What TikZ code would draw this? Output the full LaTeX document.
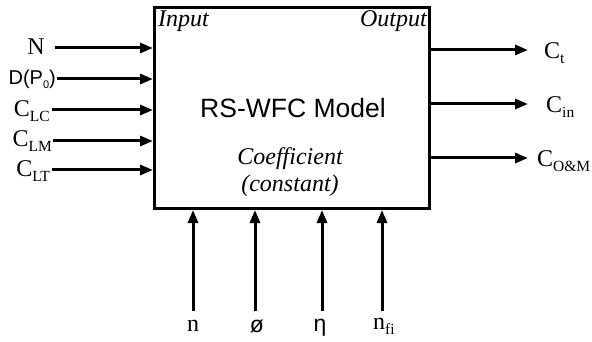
\documentclass[tikz,border=0pt]{standalone}
\usepackage{fontspec}
\setmainfont{Liberation Serif}
\newfontfamily\helv{Liberation Sans}
\usetikzlibrary{arrows.meta}
\newcommand{\mysub}[1]{\raisebox{-0.22em}{\fontsize{15.5}{16}\selectfont #1}}
\tikzset{
  lbl/.style={inner sep=1pt, font=\fontsize{24}{26}\selectfont},
  itl/.style={inner sep=1pt, font=\itshape\fontsize{24}{26}\selectfont},
  arr/.style={line width=3pt, -{Triangle[length=13pt,width=10pt]}},
  boxst/.style={draw, line width=3pt, minimum width=275pt, minimum height=201pt, inner sep=0pt}
}
\begin{document}
\begin{tikzpicture}[x=1pt,y=-1pt]
\useasboundingbox (0,0) rectangle (592,342);
\node[boxst] (box) at (292,108) {};
\node[lbl, font=\helv\fontsize{26.5}{28}\selectfont] (title) at (293,108) {RS-WFC Model};
\node[itl] (coef) at (290,159) {Coefficient};
\node[itl] (const) at (290,186) {(constant)};
\node[itl, anchor=base west] (inp) at (157,27) {Input};
\node[itl, anchor=base east] (outp) at (428,27) {Output};
% left inputs
\node[lbl] (N) at (36,47) {N};
\node[lbl, anchor=east, font=\helv\fontsize{20}{22}\selectfont] (D) at (57,79) {D(P\raisebox{-0.2em}{\fontsize{11}{11}\selectfont 0})};
\node[lbl, anchor=east] (CLC) at (51,111) {C\mysub{LC}};
\node[lbl, anchor=east] (CLM) at (53,141) {C\mysub{LM}};
\node[lbl, anchor=east] (CLT) at (51,171) {C\mysub{LT}};
\coordinate (aN) at (55,48);
\coordinate (aLC) at (52,110);
\coordinate (aLT) at (52,170);
\draw[arr] (aN) -- (aN -| box.west);
\draw[arr] (D.east) -- (D.east -| box.west);
\draw[arr] (aLC) -- (aLC -| box.west);
\draw[arr] (CLM.east) -- (CLM.east -| box.west);
\draw[arr] (aLT) -- (aLT -| box.west);
% right outputs
\node[lbl, anchor=west] (Ct) at (543,53) {C\mysub{t}};
\node[lbl, anchor=west] (Cin) at (545,107) {C\mysub{in}};
\node[lbl, anchor=west] (COM) at (536,161) {C\mysub{O\&M}};
\coordinate (et) at (528,50);
\coordinate (ein) at (528,104);
\coordinate (eom) at (528,158);
\draw[arr] (et -| box.east) -- (et);
\draw[arr] (ein -| box.east) -- (ein);
\draw[arr] (eom -| box.east) -- (eom);
% bottom
\node[lbl] (n) at (193,326) {n};
\node[lbl, font=\helv\fontsize{23}{24}\selectfont] (phi) at (257,326) {ø};
\node[lbl, font=\helv\fontsize{23}{24}\selectfont] (eta) at (320,328) {η};
\node[lbl, anchor=west] (nfi) at (372,326) {n\mysub{fi}};
\coordinate (b1) at (193,311);
\coordinate (b2) at (255,311);
\coordinate (b3) at (322,311);
\coordinate (b4) at (382,311);
\draw[arr] (b1) -- (b1 |- box.south);
\draw[arr] (b2) -- (b2 |- box.south);
\draw[arr] (b3) -- (b3 |- box.south);
\draw[arr] (b4) -- (b4 |- box.south);
\end{tikzpicture}
\end{document}
